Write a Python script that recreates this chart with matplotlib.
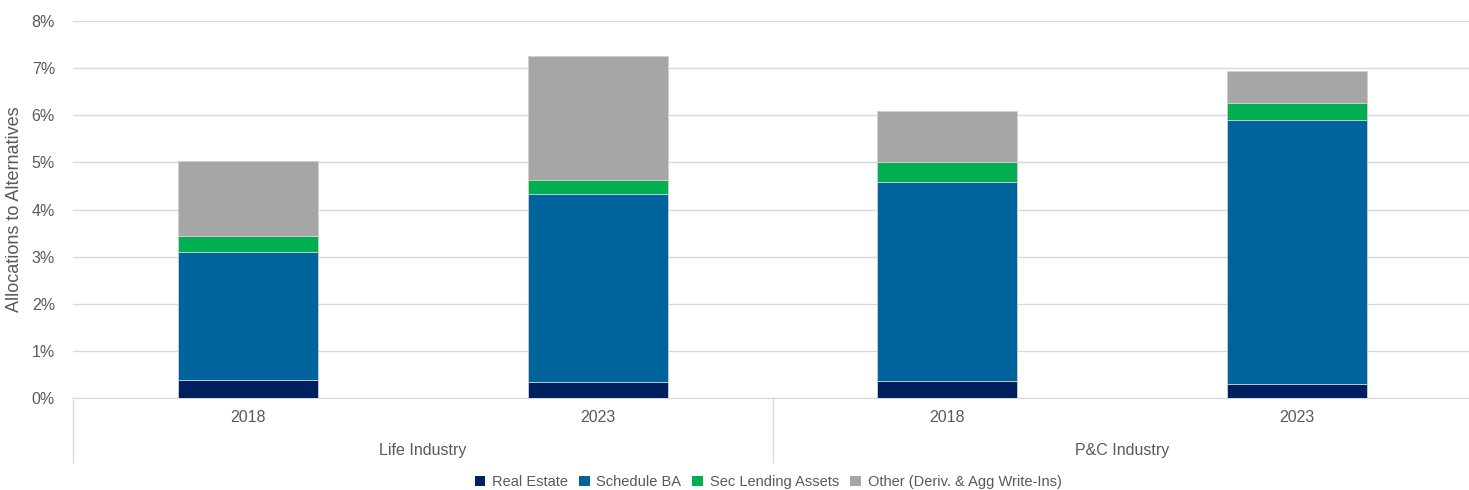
import numpy as np
import matplotlib.pyplot as plt
import matplotlib.transforms as mtransforms
from matplotlib.ticker import FuncFormatter

plt.rcParams['font.family'] = ['Liberation Sans', 'DejaVu Sans']

years = ['2018', '2023', '2018', '2023']
groups = ['Life Industry', 'P&C Industry']

# allocation shares, % of invested assets
real_estate = [0.38, 0.35, 0.37, 0.29]
schedule_ba = [2.72, 3.98, 4.22, 5.61]
sec_lending = [0.33, 0.30, 0.41, 0.37]
other = [1.60, 2.62, 1.09, 0.66]

series = [
    ('Real Estate', real_estate, '#002060'),
    ('Schedule BA', schedule_ba, '#00649c'),
    ('Sec Lending Assets', sec_lending, '#00b050'),
    ('Other (Deriv. & Agg Write-Ins)', other, '#a6a6a6'),
]

txt = '#595959'
W, H = 1469, 490
fig = plt.figure(figsize=(W / 100, H / 100), dpi=100)
ax = fig.add_axes([73 / W, 1 - 398 / H, (1472 - 73) / W, (398 - 21) / H])

x = np.arange(len(years))
bottom = np.zeros(len(years))
for name, vals, col in series:
    ax.bar(x, vals, 0.4, bottom=bottom, color=col, label=name,
           edgecolor='#d0d0d0', linewidth=0.6, zorder=3)
    bottom += np.array(vals)

ax.set_xlim(-0.5, 3.5)
ax.set_ylim(0, 8)
ax.set_yticks(range(0, 9))
ax.yaxis.set_major_formatter(FuncFormatter(lambda v, p: f'{v:.0f}%'))
ax.grid(axis='y', color='#d9d9d9', linewidth=1, zorder=0)
for s in ['left', 'right', 'top']:
    ax.spines[s].set_visible(False)
ax.spines['bottom'].set_color('#d9d9d9')
ax.tick_params(axis='y', length=0, labelsize=11.5, labelcolor=txt, pad=13)
ax.set_xticks([])
ax.set_ylabel('Allocations to Alternatives', fontsize=13, color=txt, labelpad=6)

# two-level category axis
tr = mtransforms.blended_transform_factory(ax.transData, ax.transAxes)
ybot = -(462 - 398) / (398 - 21)
for xv in [-0.5, 1.5, 3.5]:
    ax.plot([xv, xv], [0, ybot], transform=tr, color='#d9d9d9', lw=1, clip_on=False)
for xi, yr in zip(x, years):
    ax.text(xi, -(418 - 398) / (398 - 21), yr, transform=tr, ha='center', va='center',
            fontsize=11.5, color=txt)
for gi, g in enumerate(groups):
    ax.text(gi * 2 + 0.5, -(451 - 398) / (398 - 21), g, transform=tr, ha='center',
            va='center', fontsize=11.5, color=txt)

leg = fig.legend(loc='center', bbox_to_anchor=(768 / W, 1 - 482 / H), ncol=4,
                 frameon=False, fontsize=10.5, handlelength=0.75, handleheight=0.75,
                 handletextpad=0.45, columnspacing=0.75)
for t in leg.get_texts():
    t.set_color(txt)
for h in leg.legend_handles:
    h.set_edgecolor('none')

plt.savefig('out.png', dpi=100)
